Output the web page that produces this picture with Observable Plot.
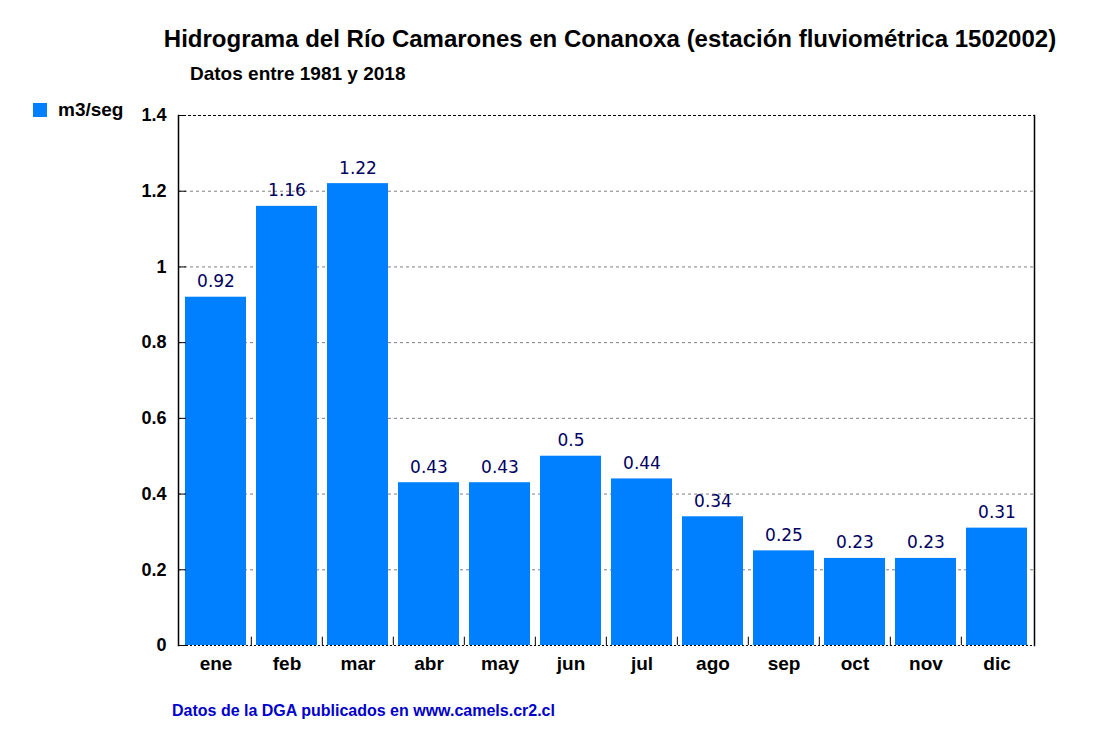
<!DOCTYPE html>
<html>
<head>
<meta charset="utf-8">
<script src="https://cdn.jsdelivr.net/npm/d3@7"></script>
<script src="https://cdn.jsdelivr.net/npm/@observablehq/plot@0.6"></script>
<style>
  body { margin: 0; background: #fff; width: 1101px; height: 739px; position: relative; overflow: hidden; font-family: "Liberation Sans", Arial, sans-serif; }
  .title { position: absolute; left: 0; width: 1220px; top: 25px; text-align: center; font-weight: bold; font-size: 24px; color: #000; white-space: nowrap; z-index: 2; }
  .subtitle { position: absolute; left: 190px; top: 63px; font-weight: bold; font-size: 19px; color: #000; white-space: nowrap; z-index: 2; }
  .legend { position: absolute; left: 33px; top: 99px; font-weight: bold; font-size: 19px; color: #000; white-space: nowrap; display: flex; align-items: center; z-index: 2; }
  .legend .sw { width: 14px; height: 14px; background: #0080ff; margin-right: 11px; }
  #chart { position: absolute; left: 0; top: 90px; z-index: 1; }
  .caption { position: absolute; left: 172px; top: 702px; font-weight: bold; font-size: 16px; color: #0000cc; white-space: nowrap; z-index: 2; }
</style>
</head>
<body>
<div id="chart"></div>
<div class="title">Hidrograma del Río Camarones en Conanoxa (estación fluviométrica 1502002)</div>
<div class="subtitle">Datos entre 1981 y 2018</div>
<div class="legend"><span class="sw"></span><span>m3/seg</span></div>
<div class="caption">Datos de la DGA publicados en www.camels.cr2.cl</div>
<script>
const months = ["ene", "feb", "mar", "abr", "may", "jun", "jul", "ago", "sep", "oct", "nov", "dic"];
const flows = [0.92, 1.16, 1.22, 0.43, 0.43, 0.5, 0.44, 0.34, 0.25, 0.23, 0.23, 0.31];
const yTicks = [0, 0.2, 0.4, 0.6, 0.8, 1, 1.2, 1.4];
const gridTicks = [0.2, 0.4, 0.6, 0.8, 1, 1.2];

const data = months.map((m, i) => ({month: m, value: flows[i]}));

const width = 1101, height = 600;
const marginLeft = 178, marginRight = 67, marginTop = 25, marginBottom = 45;
const plotW = width - marginLeft - marginRight;
const step = plotW / months.length;

const chart = Plot.plot({
  width, height, marginLeft, marginRight, marginTop, marginBottom,
  style: {fontFamily: "'Liberation Sans', Arial, sans-serif", background: "#fff"},
  x: {domain: months, padding: 0, label: null},
  y: {domain: [0, 1.4], label: null},
  marks: [
    Plot.ruleY(gridTicks, {stroke: "#808080", strokeDasharray: "3,3", strokeWidth: 1}),
    Plot.ruleY([1.4], {stroke: "#000", strokeDasharray: "3,2", strokeWidth: 1}),
    Plot.barY(data, {x: "month", y: "value", fill: "#0080ff", insetLeft: 5, insetRight: 5}),
    Plot.ruleY([0], {stroke: "#000", strokeDasharray: "2,2", strokeWidth: 1}),
    Plot.ruleX(months.slice(1), {x: d => d, y1: 0, y2: 0.022, dx: -step / 2, stroke: "#000"}),
    Plot.tickY(yTicks, {y: d => d, insetRight: plotW - 8, stroke: "#000"}),
    Plot.frame({anchor: "left", stroke: "#000", strokeWidth: 1.5}),
    Plot.frame({anchor: "right", stroke: "#000", strokeWidth: 1.5}),
    Plot.text(data, {x: "month", y: "value", text: d => String(d.value), lineAnchor: "bottom", dy: -10,
      fill: "#000060", fontSize: 17, fontFamily: "'DejaVu Sans', Verdana, sans-serif"}),
    Plot.axisY({ticks: yTicks, tickSize: 0, tickPadding: 12, tickFormat: d => String(d),
      fontSize: 18, fontWeight: "bold", fill: "#000"}),
    Plot.axisX({tickSize: 0, tickPadding: 11, fontSize: 19, fontWeight: "bold", fill: "#000"})
  ]
});
document.getElementById("chart").appendChild(chart);
</script>
</body>
</html>
